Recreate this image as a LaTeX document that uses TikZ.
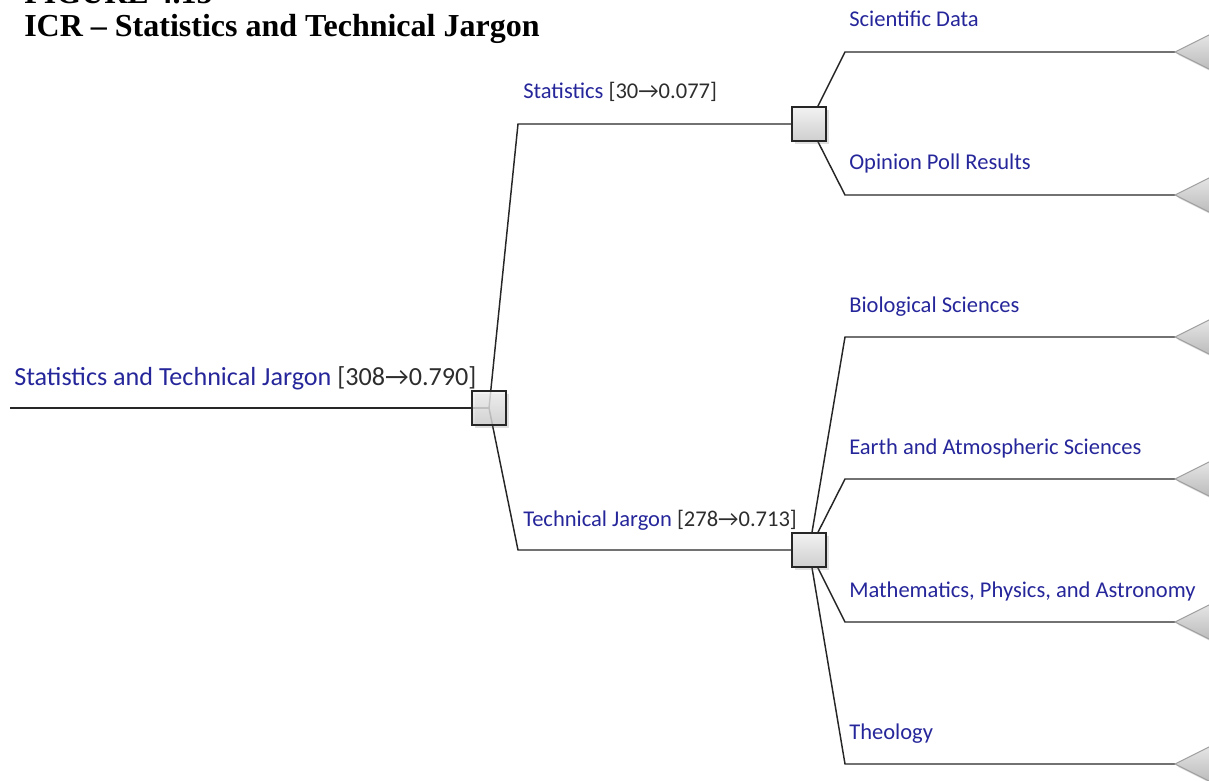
\documentclass[tikz,border=0pt]{standalone}
\usepackage{fontspec}
\setmainfont{Liberation Serif}
\newfontfamily\calibri{Carlito}
\usetikzlibrary{positioning,shadows,backgrounds}
\definecolor{lblblue}{RGB}{38,38,155}
\definecolor{numgray}{RGB}{45,45,45}

% value bracket after each label
\newcommand{\score}[2]{\textcolor{numgray}{[#1→#2]}}

\tikzset{
  decision/.style={draw=black!85, line width=1.4pt, minimum size=25.5pt, inner sep=0pt,
    top color=gray!10, bottom color=gray!38,
    drop shadow={opacity=0.25, shadow xshift=2pt, shadow yshift=-2pt}},
  branch/.style={line width=1.1pt, black!85},
  lbl/.style={anchor=base west, inner sep=0pt, text=lblblue,
    font=\calibri\fontsize{16.9}{20}\selectfont},
  endtri/.pic={
    \path[top color=gray!18, bottom color=gray!55, draw=gray!75, line width=0.7pt,
      drop shadow={opacity=0.3, shadow xshift=2pt, shadow yshift=-2pt}]
      (0,0) -- (40,-20) -- (40,20) -- cycle;}
}

\begin{document}
\begin{tikzpicture}[x=0.75pt,y=-0.75pt]
  \useasboundingbox (0,0) rectangle (1209,781);

  % titolo
  \node[anchor=base west, inner sep=0pt, font=\bfseries\fontsize{24}{28}\selectfont] (fig) at (24,4) {FIGURE 4.15};
  \node[anchor=base west, inner sep=0pt, font=\bfseries\fontsize{24}{28}\selectfont] (title) at (24,37) {ICR – Statistics and Technical Jargon};

  % nodi di decisione
  \node[decision, fill opacity=0.8] (root) at (489,408) {};
  \node[decision] (stat) at (809,124) {};
  \node[decision] (tech) at (809,550) {};

  % ingresso e gomiti
  \coordinate (start) at (10,408);
  \coordinate (stat-knee) at (518,124);
  \coordinate (tech-knee) at (518,550);

  % foglie (gomito, fine)
  \coordinate (sd) at (845,52);   \coordinate (sd-end) at (1175,52);
  \coordinate (op) at (845,195);  \coordinate (op-end) at (1175,195);
  \coordinate (bio) at (845,337); \coordinate (bio-end) at (1175,337);
  \coordinate (ea) at (845,479);  \coordinate (ea-end) at (1175,479);
  \coordinate (mp) at (845,622);  \coordinate (mp-end) at (1175,622);
  \coordinate (th) at (845,764);  \coordinate (th-end) at (1175,764);

  \begin{scope}[on background layer]
    \draw[branch] (start) -- (root.center);
    \draw[branch] (root.center) -- (stat-knee) -- (stat.west);
    \draw[branch] (root.center) -- (tech-knee) -- (tech.west);
    \draw[branch] (stat.center) -- (sd) -- (sd-end);
    \draw[branch] (stat.center) -- (op) -- (op-end);
    \draw[branch] (tech.center) -- (bio) -- (bio-end);
    \draw[branch] (tech.center) -- (ea) -- (ea-end);
    \draw[branch] (tech.center) -- (mp) -- (mp-end);
    \draw[branch] (tech.center) -- (th) -- (th-end);
  \end{scope}

  % triangoli terminali
  \foreach \e in {sd-end,op-end,bio-end,ea-end,mp-end,th-end}
    \pic at (\e) {endtri};

  % etichette
  \node[lbl, font=\calibri\fontsize{19.6}{23}\selectfont] (root-lbl) at (14,385) {Statistics and Technical Jargon \score{308}{0.790}};
  \node[lbl] (stat-lbl) at (523,99) {Statistics \score{30}{0.077}};
  \node[lbl] (tech-lbl) at (523,526) {Technical Jargon \score{278}{0.713}};
  \node[lbl] (sd-lbl) at (849,27) {Scientific Data};
  \node[lbl] (op-lbl) at (849,170) {Opinion Poll Results};
  \node[lbl] (bio-lbl) at (849,312) {Biological Sciences};
  \node[lbl] (ea-lbl) at (849,454) {Earth and Atmospheric Sciences};
  \node[lbl] (mp-lbl) at (849,597) {Mathematics, Physics, and Astronomy};
  \node[lbl] (th-lbl) at (849,739) {Theology};
\end{tikzpicture}
\end{document}
